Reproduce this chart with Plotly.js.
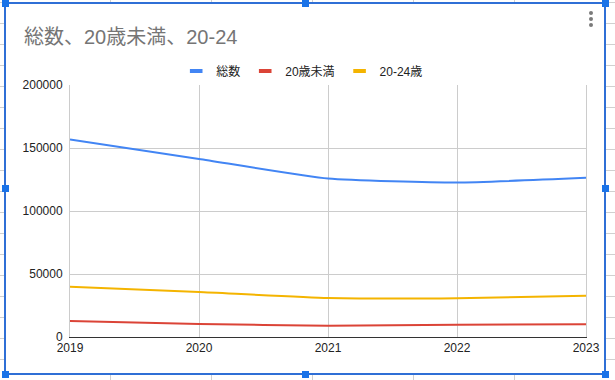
<!DOCTYPE html>
<html>
<head>
<meta charset="utf-8">
<script src="https://cdn.plot.ly/plotly-3.0.1.min.js"></script>
<style>
  html, body { margin: 0; padding: 0; background: #fff; }
  #wrap { position: relative; width: 615px; height: 380px; overflow: hidden; }
  #chart { position: absolute; left: 0; top: 0; width: 615px; height: 380px; }
  .deco { position: absolute; pointer-events: none; }
</style>
</head>
<body>
<div id="wrap">
  <div id="chart"></div>
</div>
<script>
// ---- data ----
const years = [2019, 2020, 2021, 2022, 2023];
const seriesNames = ["総数", "20歳未満", "20-24歳"];
const total = [156700, 141300, 125800, 122600, 126300];
const under20 = [12700, 10300, 9000, 9800, 10100];
const age20to24 = [39900, 35700, 31000, 30700, 32800];
const yTicks = [0, 50000, 100000, 150000, 200000];
const titleText = "総数、20歳未満、20-24";

const colors = ["#4285f4", "#db4437", "#f4b400"];
const values = [total, under20, age20to24];

const font = "Arial, 'Liberation Sans', 'Noto Sans CJK JP', sans-serif";

const traces = [];
values.forEach((v, i) => {
  traces.push({
    x: years, y: v, name: seriesNames[i], type: "scatter", mode: "lines",
    line: { color: colors[i], width: 2, shape: "spline", smoothing: 0.5 },
    showlegend: false, hoverinfo: "skip"
  });
});
// legend entries (short thick dash like Google Sheets)
values.forEach((v, i) => {
  traces.push({
    x: [null], y: [null], name: seriesNames[i], type: "scatter", mode: "markers",
    marker: { symbol: "line-ew", size: 9, color: colors[i], line: { color: colors[i], width: 4 } },
    showlegend: true, hoverinfo: "skip"
  });
});

const layout = {
  width: 615, height: 380,
  paper_bgcolor: "#fff", plot_bgcolor: "#fff",
  margin: { l: 70, r: 29, t: 85, b: 43 },
  font: { family: font, size: 12, color: "#222" },
  title: {
    text: titleText, x: 24 / 615, xref: "container", xanchor: "left",
    y: 1 - 36.5 / 380, yref: "container", yanchor: "middle",
    font: { family: font, size: 20, color: "#757575" }
  },
  legend: {
    orientation: "h", x: 0.45, xanchor: "center", y: (337 - 71) / 252, yanchor: "middle",
    font: { family: font, size: 12, color: "#222" },
    itemwidth: 30, tracegroupgap: 0, bgcolor: "rgba(0,0,0,0)"
  },
  xaxis: {
    range: [2019, 2023], tickvals: years, ticktext: years.map(String),
    showgrid: true, gridcolor: "#cccccc", gridwidth: 1,
    showline: true, linecolor: "#333", linewidth: 1,
    zeroline: false, ticks: "", fixedrange: true,
    tickfont: { family: font, size: 12, color: "#222" }
  },
  yaxis: {
    range: [0, 200000], tickvals: yTicks, tickformat: "d",
    showgrid: true, gridcolor: "#cccccc", gridwidth: 1,
    showline: true, mirror: true, linecolor: "#cccccc", linewidth: 1,
    zeroline: false, ticks: "", ticklabelstandoff: 4, fixedrange: true,
    tickfont: { family: font, size: 12, color: "#222" }
  }
};

Plotly.newPlot("chart", traces, layout, { displayModeBar: false, staticPlot: true }).then(() => {
  const wrap = document.getElementById("wrap");
  function box(l, t, w, h, bg, extra) {
    const d = document.createElement("div");
    d.className = "deco";
    d.style.left = l + "px"; d.style.top = t + "px";
    d.style.width = w + "px"; d.style.height = h + "px";
    d.style.background = bg;
    if (extra) Object.assign(d.style, extra);
    wrap.appendChild(d);
  }
  const grid = "#d0d0d0";
  // spreadsheet rows (left and right strips)
  for (let y = 2; y < 380; y += 21) {
    box(0, y, 4, 1, grid);
    box(606, y, 9, 1, grid);
  }
  // spreadsheet columns (top and bottom strips)
  [110, 211, 312, 413, 514].forEach(x => {
    box(x, 0, 1, 2, grid);
    box(x, 375, 1, 5, grid);
  });
  // selection frame
  const blue = "#2f6fd6";
  box(4, 2, 602, 2, blue);
  box(4, 373, 602, 2, blue);
  box(4, 2, 2, 373, blue);
  box(604, 2, 2, 373, blue);
  // handles
  [[5,3],[305,3],[605,3],[5,188],[605,188],[5,374],[305,374],[605,374]].forEach(p => {
    box(p[0] - 3.5, p[1] - 3.5, 7, 7, "#1a73e8");
  });
  // menu dots
  [13, 19, 25].forEach(y => {
    box(589, y - 2, 4, 4, "#7a7a7a", { borderRadius: "50%" });
  });
});
</script>
</body>
</html>
